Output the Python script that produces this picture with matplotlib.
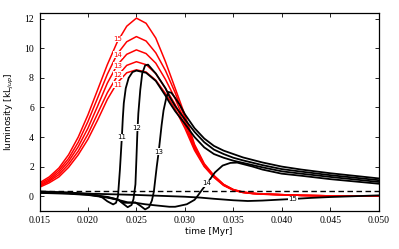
import numpy as np
import matplotlib.pyplot as plt

# red curves (11..15), common time grid [Myr]
t_red = [0.015, 0.016, 0.017, 0.018, 0.019, 0.020, 0.021, 0.022, 0.023, 0.024,
         0.025, 0.026, 0.027, 0.028, 0.029, 0.030, 0.031, 0.032, 0.033, 0.034,
         0.035, 0.036, 0.037, 0.038, 0.040, 0.042, 0.045, 0.050]
red11 = [0.60, 0.90, 1.30, 1.95, 2.80, 3.85, 5.15, 6.55, 7.65, 8.35,
         8.55, 8.40, 7.85, 6.95, 5.90, 4.60, 3.10, 2.00, 1.27, 0.72,
         0.40, 0.24, 0.17, 0.13, 0.09, 0.05, 0.02, 0.00]
red12 = [0.67, 1.00, 1.45, 2.15, 3.05, 4.20, 5.60, 7.00, 8.10, 8.85,
         9.10, 8.90, 8.30, 7.30, 6.20, 4.80, 3.20, 2.05, 1.30, 0.74,
         0.41, 0.25, 0.18, 0.13, 0.09, 0.05, 0.02, 0.00]
red13 = [0.74, 1.08, 1.60, 2.35, 3.35, 4.60, 6.10, 7.65, 8.85, 9.60,
         9.90, 9.65, 9.00, 7.90, 6.60, 5.05, 3.30, 2.10, 1.34, 0.76,
         0.42, 0.26, 0.18, 0.14, 0.10, 0.05, 0.02, 0.00]
red14 = [0.82, 1.18, 1.75, 2.55, 3.65, 5.05, 6.65, 8.25, 9.60, 10.45,
         10.80, 10.50, 9.70, 8.50, 7.00, 5.30, 3.40, 2.15, 1.37, 0.78,
         0.44, 0.27, 0.19, 0.14, 0.10, 0.05, 0.02, 0.00]
red15 = [0.90, 1.30, 1.90, 2.80, 4.00, 5.50, 7.20, 8.90, 10.40, 11.50,
         12.05, 11.70, 10.70, 9.10, 7.30, 5.50, 3.50, 2.20, 1.40, 0.80,
         0.45, 0.28, 0.20, 0.15, 0.10, 0.05, 0.02, 0.00]

# black curves (11..15)
t_b11 = [0.015, 0.018, 0.020, 0.021, 0.0215, 0.022, 0.0226, 0.0229, 0.0231, 0.0233,
         0.0235, 0.0236, 0.0237, 0.0239, 0.0242, 0.0246, 0.025, 0.026, 0.027, 0.028,
         0.0284, 0.029, 0.030, 0.031, 0.032, 0.033, 0.034, 0.035, 0.036, 0.038,
         0.040, 0.042, 0.045, 0.050]
blk11 = [0.32, 0.25, 0.15, 0.05, -0.10, -0.35, -0.56, -0.45, 0.00, 1.80,
         4.00, 5.30, 6.30, 7.30, 8.00, 8.40, 8.50, 8.35, 7.80, 6.80,
         6.35, 5.75, 4.90, 4.00, 3.30, 2.85, 2.60, 2.40, 2.25, 1.95,
         1.68, 1.52, 1.30, 0.96]
t_b12 = [0.015, 0.018, 0.020, 0.022, 0.0226, 0.0231, 0.0236, 0.0241, 0.0245, 0.0247,
         0.0249, 0.0250, 0.0251, 0.0252, 0.0254, 0.0256, 0.0259, 0.0262, 0.027, 0.028,
         0.0284, 0.029, 0.030, 0.031, 0.032, 0.033, 0.034, 0.035, 0.036, 0.038,
         0.040, 0.042, 0.045, 0.050]
blk12 = [0.28, 0.22, 0.12, -0.05, -0.15, -0.23, -0.50, -0.75, -0.60, -0.20,
         0.80, 2.50, 4.30, 5.60, 7.20, 8.30, 8.85, 8.90, 8.30, 7.30,
         6.75, 6.10, 5.20, 4.35, 3.65, 3.15, 2.85, 2.60, 2.42, 2.10,
         1.83, 1.66, 1.42, 1.08]
t_b13 = [0.015, 0.018, 0.020, 0.022, 0.0231, 0.0236, 0.0241, 0.0249, 0.0254, 0.0259,
         0.0263, 0.0266, 0.0268, 0.0271, 0.0273, 0.0276, 0.0278, 0.0281, 0.0283, 0.0286,
         0.029, 0.0295, 0.030, 0.031, 0.032, 0.033, 0.034, 0.035, 0.036, 0.038,
         0.040, 0.042, 0.045, 0.050]
blk13 = [0.25, 0.19, 0.10, -0.08, -0.23, -0.45, -0.45, -0.43, -0.65, -0.90,
         -0.75, -0.30, 0.30, 2.00, 3.00, 4.80, 5.80, 6.70, 7.05, 7.00,
         6.65, 6.15, 5.55, 4.60, 3.90, 3.40, 3.08, 2.85, 2.62, 2.28,
         2.00, 1.80, 1.55, 1.20]
t_b14 = [0.015, 0.018, 0.020, 0.022, 0.0231, 0.0241, 0.0249, 0.0259, 0.0269, 0.0284,
         0.029, 0.0302, 0.031, 0.0313, 0.0318, 0.0323, 0.0331, 0.0339, 0.0347, 0.0354,
         0.037, 0.038, 0.040, 0.042, 0.045, 0.050]
blk14 = [0.22, 0.16, 0.08, -0.10, -0.25, -0.42, -0.45, -0.55, -0.62, -0.72,
         -0.72, -0.55, -0.25, 0.00, 0.45, 0.86, 1.60, 2.07, 2.25, 2.27,
         2.00, 1.80, 1.52, 1.38, 1.15, 0.84]
t_b15 = [0.015, 0.020, 0.025, 0.030, 0.0316, 0.033, 0.035, 0.0365, 0.038, 0.040,
         0.0412, 0.043, 0.045, 0.050]
blk15 = [0.25, 0.17, 0.08, -0.04, -0.10, -0.18, -0.28, -0.33, -0.30, -0.23,
         -0.19, -0.12, -0.06, 0.05]

dash_level = 0.38

# inline labels: (text, t, value)
red_labels = [("15", 0.02307, 10.64), ("14", 0.02307, 9.57), ("13", 0.02307, 8.83),
              ("12", 0.02310, 8.22), ("11", 0.02307, 7.55)]
blk_labels = [("11", 0.02351, 3.97), ("12", 0.02506, 4.64), ("13", 0.02733, 3.02),
              ("14", 0.03228, 0.86), ("15", 0.04116, -0.19)]

fig = plt.figure(figsize=(3.99, 2.49), dpi=100)
ax = fig.add_axes([0.099, 0.153, 0.850, 0.795])

for y in [red11, red12, red13, red14, red15]:
    ax.plot(t_red, y, color="red", lw=1.1)
ax.axhline(dash_level, color="black", lw=1.0, ls=(0, (4, 2.5)))
for t, y in [(t_b11, blk11), (t_b12, blk12), (t_b13, blk13), (t_b14, blk14), (t_b15, blk15)]:
    ax.plot(t, y, color="black", lw=1.3)

for s, x, y in red_labels:
    ax.text(x, y, s, color="red", fontsize=5, ha="center", va="center",
            bbox=dict(fc="white", ec="none", pad=0.3))
for s, x, y in blk_labels:
    ax.text(x, y, s, color="black", fontsize=5, ha="center", va="center",
            bbox=dict(fc="white", ec="none", pad=0.3))

ax.set_xlim(0.015, 0.050)
ax.set_ylim(-1, 12.4)
ax.set_xticks(np.arange(0.015, 0.0501, 0.005))
ax.set_yticks(range(0, 13, 2))
ax.set_xticklabels(["%.3f" % v for v in np.arange(0.015, 0.0501, 0.005)])
ax.tick_params(direction="in", top=True, right=True, length=3, width=0.6,
               labelsize=7, pad=4)
for lab in ax.get_xticklabels() + ax.get_yticklabels():
    lab.set_family("Liberation Serif")
for sp in ax.spines.values():
    sp.set_linewidth(0.9)

ax.set_xlabel("time [Myr]", fontsize=6.5, labelpad=1)
ax.set_ylabel("luminosity [kL$_{jup}$]", fontsize=6.5, labelpad=6)

fig.savefig("out.png", dpi=100)
